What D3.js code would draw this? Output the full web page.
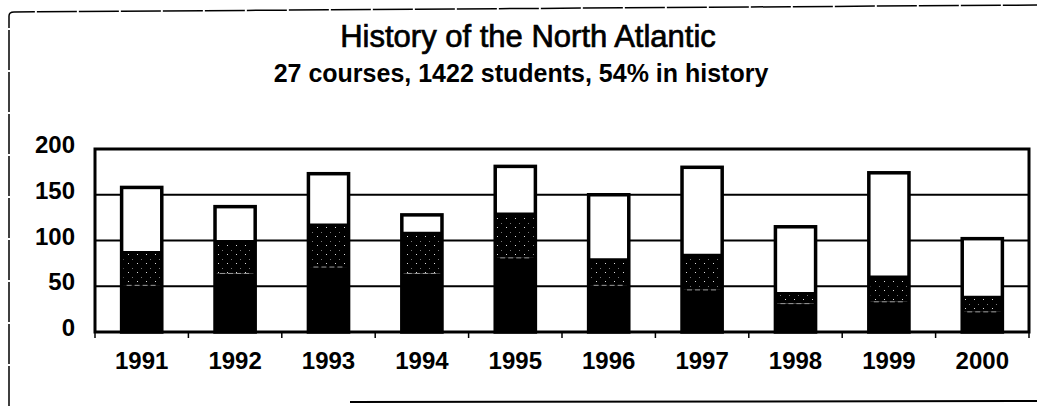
<!DOCTYPE html>
<html>
<head>
<meta charset="utf-8">
<script src="https://cdn.jsdelivr.net/npm/d3@7"></script>
<style>
  body { margin: 0; background: #fff; }
  svg { display: block; }
  text { font-family: "Liberation Sans", Arial, sans-serif; fill: #000; }
</style>
</head>
<body>
<svg id="chart" width="1037" height="406"></svg>
<script>
// values
var years = ["1991", "1992", "1993", "1994", "1995", "1996", "1997", "1998", "1999", "2000"];
var seriesA = [51, 64, 71, 64, 81, 51, 46, 31, 33, 22];   // solid black, bottom
var seriesB = [36, 35, 46, 44, 48, 28, 38, 11, 27, 16];   // speckled dark, middle
var seriesC = [71, 38, 56, 20, 52, 71, 96, 73, 114, 64];  // white, top
var yTicks = [0, 50, 100, 150, 200];
var titleText = "History of the North Atlantic";
var subtitleText = "27 courses, 1422 students, 54% in history";

(function () {
  var svg = d3.select('#chart');
  var plotLeft = 95, plotRight = 1029, plotTop = 149, plotBottom = 332;

  var rows = years.map(function(d, i) {
    return {year: d, a: seriesA[i], b: seriesB[i], c: seriesC[i]};
  });
  var stacked = d3.stack().keys(['a', 'b', 'c'])(rows);

  var x = d3.scaleBand().domain(years).range([plotLeft, plotRight])
    .paddingInner(0.57).paddingOuter(0.285);
  var y = d3.scaleLinear().domain([0, 200]).range([plotBottom, plotTop]);

  // sparse speckle pattern for the middle series (scan dithering)
  var defs = svg.append('defs');
  var pat = defs.append('pattern')
    .attr('id', 'speckle')
    .attr('patternUnits', 'userSpaceOnUse')
    .attr('width', 9).attr('height', 9);
  pat.append('rect').attr('width', 9).attr('height', 9).attr('fill', '#000');
  pat.append('rect').attr('x', 2).attr('y', 2).attr('width', 1).attr('height', 1).attr('fill', '#ddd');
  pat.append('rect').attr('x', 6).attr('y', 7).attr('width', 1).attr('height', 1).attr('fill', '#777');

  // page frame (scanned page edges)
  svg.append('path')
    .attr('d', 'M9,406 L9,16 Q9,12 14,12 L1037,5')
    .attr('fill', 'none').attr('stroke', '#000').attr('stroke-width', 1.5)
    .attr('stroke-dasharray', '40,2');
  svg.append('line')
    .attr('x1', 350).attr('x2', 1037).attr('y1', 402).attr('y2', 401)
    .attr('stroke', '#000').attr('stroke-width', 2);

  // titles
  svg.append('text')
    .attr('x', 528).attr('y', 47)
    .attr('text-anchor', 'middle')
    .attr('font-size', 31)
    .attr('stroke', '#000').attr('stroke-width', 0.7)
    .text(titleText);
  svg.append('text')
    .attr('x', 521).attr('y', 82)
    .attr('text-anchor', 'middle')
    .attr('font-size', 25)
    .attr('font-weight', 'bold')
    .text(subtitleText);

  // gridlines
  svg.append('g')
    .selectAll('line')
    .data(yTicks.filter(function(d) { return d > 0 && d < 200; }))
    .enter()
    .append('line')
    .attr('x1', plotLeft).attr('x2', plotRight)
    .attr('y1', function(d) { return y(d); })
    .attr('y2', function(d) { return y(d); })
    .attr('stroke', '#000')
    .attr('stroke-width', 2);

  // bars
  var fills = {a: '#000', b: 'url(#speckle)', c: '#fff'};
  svg.append('g')
    .selectAll('g')
    .data(stacked)
    .enter()
    .append('g')
    .attr('fill', function(d) { return fills[d.key]; })
    .selectAll('rect')
    .data(function(d) { return d; })
    .enter()
    .append('rect')
    .attr('x', function(d) { return x(d.data.year); })
    .attr('width', x.bandwidth())
    .attr('y', function(d) { return y(d[1]); })
    .attr('height', function(d) { return y(d[0]) - y(d[1]); });

  // faint boundary between the two dark segments
  svg.append('g')
    .selectAll('line')
    .data(stacked[0])
    .enter()
    .append('line')
    .attr('x1', function(d) { return x(d.data.year) + 5; })
    .attr('x2', function(d) { return x(d.data.year) + x.bandwidth() - 5; })
    .attr('y1', function(d) { return y(d[1]); })
    .attr('y2', function(d) { return y(d[1]); })
    .attr('stroke', '#999')
    .attr('stroke-width', 1)
    .attr('stroke-dasharray', '5,3');

  // bar outline and black edge below the white segment
  svg.append('g')
    .selectAll('rect')
    .data(stacked[2])
    .enter()
    .append('rect')
    .attr('x', function(d) { return x(d.data.year); })
    .attr('width', x.bandwidth())
    .attr('y', function(d) { return y(d[1]); })
    .attr('height', function(d) { return y(0) - y(d[1]); })
    .attr('fill', 'none')
    .attr('stroke', '#000')
    .attr('stroke-width', 3.5);
  svg.append('g')
    .selectAll('line')
    .data(stacked[2])
    .enter()
    .append('line')
    .attr('x1', function(d) { return x(d.data.year); })
    .attr('x2', function(d) { return x(d.data.year) + x.bandwidth(); })
    .attr('y1', function(d) { return y(d[0]); })
    .attr('y2', function(d) { return y(d[0]); })
    .attr('stroke', '#000')
    .attr('stroke-width', 3);

  // plot frame
  svg.append('rect')
    .attr('x', plotLeft).attr('y', plotTop)
    .attr('width', plotRight - plotLeft).attr('height', plotBottom - plotTop)
    .attr('fill', 'none')
    .attr('stroke', '#000')
    .attr('stroke-width', 3);

  // y axis labels
  var yAxis = svg.append('g')
    .attr('transform', 'translate(' + (plotLeft - 20) + ',-4)')
    .call(d3.axisLeft(y).tickValues(yTicks).tickSize(0).tickPadding(0));
  yAxis.select('.domain').remove();
  yAxis.selectAll('text')
    .attr('font-family', '"Liberation Sans", Arial, sans-serif')
    .attr('font-size', 24)
    .attr('font-weight', 'bold');

  // x axis: labels under bars, ticks between categories
  var xAxis = svg.append('g')
    .attr('transform', 'translate(0,' + plotBottom + ')')
    .call(d3.axisBottom(x).tickSize(0).tickPadding(20));
  xAxis.select('.domain').remove();
  xAxis.selectAll('text')
    .attr('font-family', '"Liberation Sans", Arial, sans-serif')
    .attr('font-size', 24)
    .attr('font-weight', 'bold');

  var bounds = years.map(function(d) { return x(d) + x.bandwidth() / 2 - x.step() / 2; });
  bounds.push(plotRight);
  svg.append('g')
    .selectAll('line')
    .data(bounds)
    .enter()
    .append('line')
    .attr('x1', function(d) { return d; })
    .attr('x2', function(d) { return d; })
    .attr('y1', plotBottom)
    .attr('y2', plotBottom + 6)
    .attr('stroke', '#000')
    .attr('stroke-width', 1.5);
})();
</script>
</body>
</html>
